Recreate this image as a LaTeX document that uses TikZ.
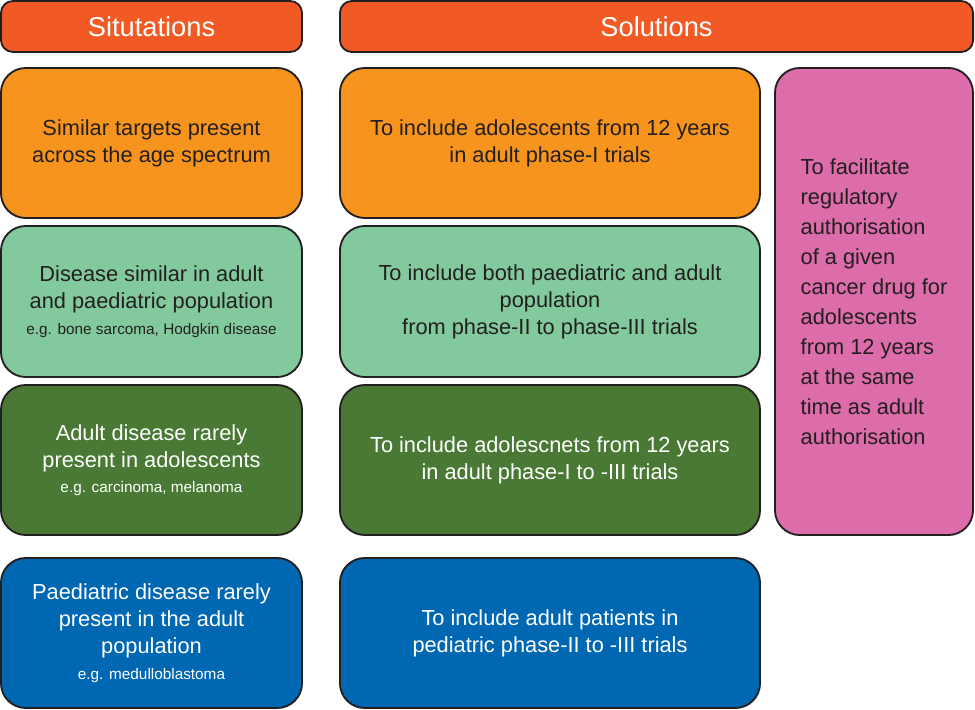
\documentclass[tikz,border=0pt]{standalone}
\usepackage{fontspec}
\setmainfont{Liberation Sans}
\usepackage{tikz}
\usetikzlibrary{positioning}

\definecolor{headred}{RGB}{241,90,36}
\definecolor{sitorange}{RGB}{247,148,30}
\definecolor{palegreen}{RGB}{130,202,157}
\definecolor{darkgreen}{RGB}{73,121,52}
\definecolor{deepblue}{RGB}{0,103,178}
\definecolor{pinkbox}{RGB}{220,108,170}
\definecolor{inkline}{RGB}{35,31,32}

\newcommand{\egline}[1]{{\fontsize{10.9}{13}\selectfont #1}}

\begin{document}
\begin{tikzpicture}[x=0.025cm,y=-0.025cm,
	box/.style={draw=inkline,line width=1.3pt,rounded corners=0.62cm,align=center,inner sep=0pt},
	head/.style={box,rounded corners=0.3cm,fill=headred,text=white,minimum height=1.275cm,font=\fontsize{19.4}{23}\selectfont},
	cell/.style={box,minimum height=3.75cm,font=\fontsize{15.5}{19.2}\selectfont},
	sitcol/.style={cell,minimum width=7.525cm},
	solcol/.style={cell,minimum width=10.5cm}]

	\useasboundingbox (0,0) rectangle (975,710);

	%% Headers %%
	\node [head,minimum width=7.525cm] (sithead) at (151.5,26.5) {Situtations};
	\node [head,minimum width=15.825cm] (solhead) at (656.5,26.5) {Solutions};

	%% Situations %%
	\node [sitcol,fill=sitorange,text=inkline] (sit1) at (151.5,143) {Similar targets present\\across the age spectrum};
	\node [sitcol,fill=palegreen,text=inkline,minimum height=3.775cm] (sit2) at (151.5,301.5) {Disease similar in adult\\and paediatric population\\[-1pt]\egline{e.g. bone sarcoma, Hodgkin disease}};
	\node [sitcol,fill=darkgreen,text=white] (sit3) at (151.5,460) {Adult disease rarely\\present in adolescents\\[-1pt]\egline{e.g. carcinoma, melanoma}};
	\node [sitcol,fill=deepblue,text=white] (sit4) at (151.5,633) {Paediatric disease rarely\\present in the adult\\population\\[-1pt]\egline{e.g. medulloblastoma}};

	%% Solutions %%
	\node [solcol,fill=sitorange,text=inkline] (sol1) at (550,143) {To include adolescents from 12 years\\in adult phase-I trials};
	\node [solcol,fill=palegreen,text=inkline,minimum height=3.775cm] (sol2) at (550,301.5) {To include both paediatric and adult\\population\\from phase-II to phase-III trials};
	\node [solcol,fill=darkgreen,text=white] (sol3) at (550,460) {To include adolescnets from 12 years\\in adult phase-I to -III trials};
	\node [solcol,fill=deepblue,text=white] (sol4) at (550,633) {To include adult patients in\\pediatric phase-II to -III trials};

	%% Authorisation %%
	\node [box,fill=pinkbox,text=inkline,minimum width=4.95cm,minimum height=11.675cm,align=left,font=\fontsize{15.5}{21.3}\selectfont] (auth) at (874,301.5) {To facilitate\\regulatory\\authorisation\\of a given\\cancer drug for\\adolescents\\from 12 years\\at the same\\time as adult\\authorisation};

\end{tikzpicture}
\end{document}
